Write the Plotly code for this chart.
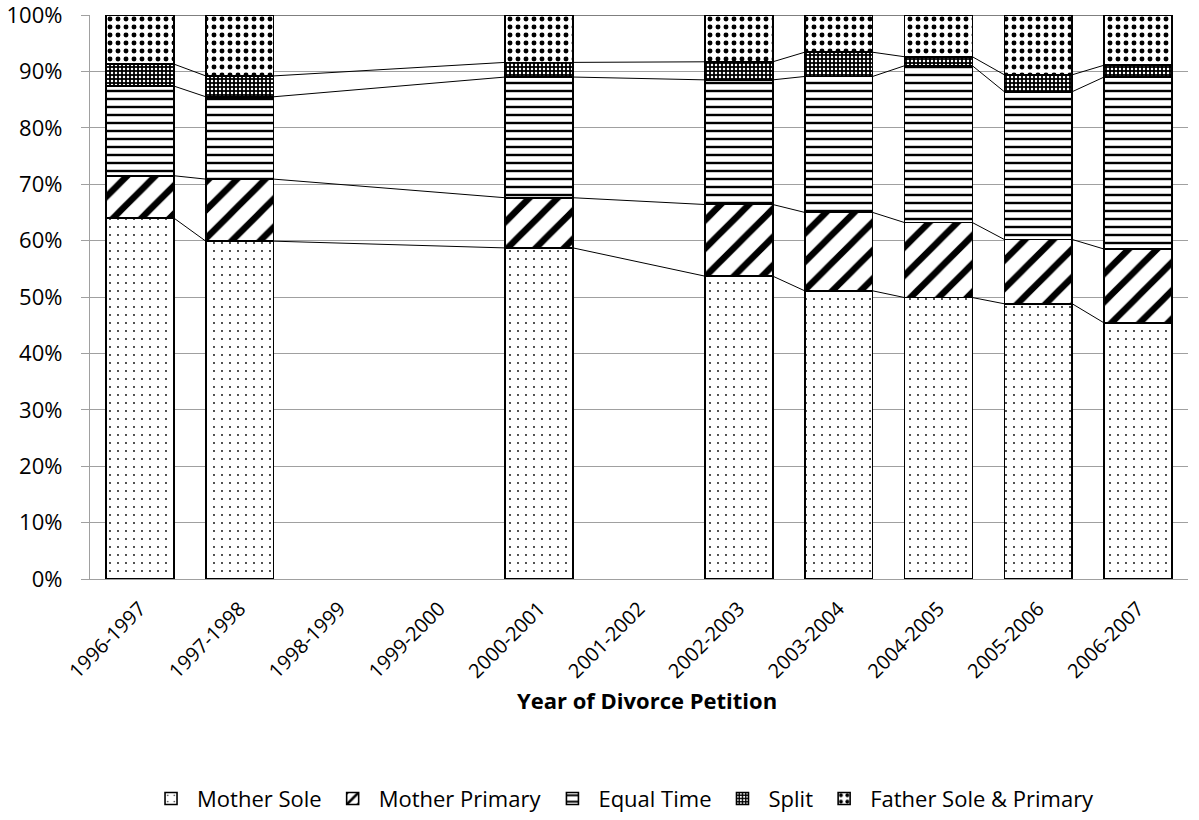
import plotly.graph_objects as go

years = ["1996-1997", "1997-1998", "1998-1999", "1999-2000", "2000-2001", "2001-2002",
         "2002-2003", "2003-2004", "2004-2005", "2005-2006", "2006-2007"]
mother_sole = [64.0, 59.9, None, None, 58.7, None, 53.7, 51.1, 49.9, 48.8, 45.4]
mother_primary = [7.5, 11.0, None, None, 8.9, None, 12.7, 13.9, 13.3, 11.4, 13.1]
equal_time = [15.9, 14.6, None, None, 21.4, None, 22.1, 24.1, 27.8, 26.2, 30.5]
split = [3.9, 3.7, None, None, 2.6, None, 3.2, 4.3, 1.6, 3.0, 2.1]
father = [8.7, 10.8, None, None, 8.4, None, 8.3, 6.6, 7.4, 10.6, 8.9]
x_title = "Year of Divorce Petition"

series = [
    ("Mother Sole", mother_sole, dict(shape=".", size=8, solidity=0.04, fgcolor="black", bgcolor="white")),
    ("Mother Primary", mother_primary, dict(shape="/", size=20, solidity=0.32, fgcolor="black", bgcolor="white")),
    ("Equal Time", equal_time, dict(shape="-", size=8, solidity=0.3, fgcolor="black", bgcolor="white")),
    ("Split", split, dict(shape=".", size=4, solidity=0.3, fgcolor="white", bgcolor="black")),
    ("Father Sole & Primary", father, dict(shape=".", size=8, solidity=0.3, fgcolor="black", bgcolor="white")),
]

FONT = "Open Sans"
BAR_W = 0.68
xs = list(range(len(years)))

fig = go.Figure()
for name, vals, pat in series:
    fig.add_trace(go.Bar(
        x=xs, y=vals, name=name, width=BAR_W,
        marker=dict(color="white", line=dict(color="black", width=1.6),
                    pattern=dict(fillmode="replace", **pat)),
    ))

# series lines connecting segment tops between consecutive present bars
present = [i for i in xs if mother_sole[i] is not None]
cums = []
running = [0.0] * len(years)
for name, vals, pat in series:
    running = [r + (v if v is not None else 0) for r, v in zip(running, vals)]
    cums.append(list(running))
for cum in cums:
    lx, ly = [], []
    for a, b in zip(present[:-1], present[1:]):
        lx += [a + BAR_W / 2, b - BAR_W / 2, None]
        ly += [cum[a], cum[b], None]
    fig.add_trace(go.Scatter(x=lx, y=ly, mode="lines", line=dict(color="black", width=1),
                             showlegend=False, hoverinfo="skip", cliponaxis=False))

fig.update_layout(
    width=1199, height=820,
    barmode="stack",
    plot_bgcolor="white", paper_bgcolor="white",
    margin=dict(l=90, r=11, t=15, b=241),
    font=dict(family=FONT, size=22, color="black"),
    legend=dict(orientation="h", x=0.485, xanchor="center", xref="paper",
                y=0.026, yanchor="middle", yref="container",
                traceorder="normal", font=dict(size=22), itemwidth=42),
    xaxis=dict(
        range=[-0.5, len(years) - 0.5], tickmode="array", tickvals=xs, ticktext=years,
        tickangle=-45, showgrid=False, showline=True, linecolor="#a0a0a0", linewidth=1.3,
        ticks="", zeroline=False, automargin=False, ticklabelstandoff=9,
        tickfont=dict(size=20),
    ),
    yaxis=dict(
        range=[0, 100], dtick=10, ticksuffix="%", showgrid=True, gridcolor="#a0a0a0",
        gridwidth=1.3, showline=True, linecolor="#a0a0a0", linewidth=1.3,
        ticks="outside", ticklen=8, tickcolor="#a0a0a0", zeroline=False,
        ticklabelstandoff=14, automargin=False, ticklabeloverflow="allow",
    ),
    annotations=[dict(text="<b>" + x_title + "</b>", xref="paper", yref="paper",
                      x=0.507, y=-0.2145, xanchor="center", yanchor="middle",
                      showarrow=False, font=dict(size=22))],
)

fig.write_html("out.html")
